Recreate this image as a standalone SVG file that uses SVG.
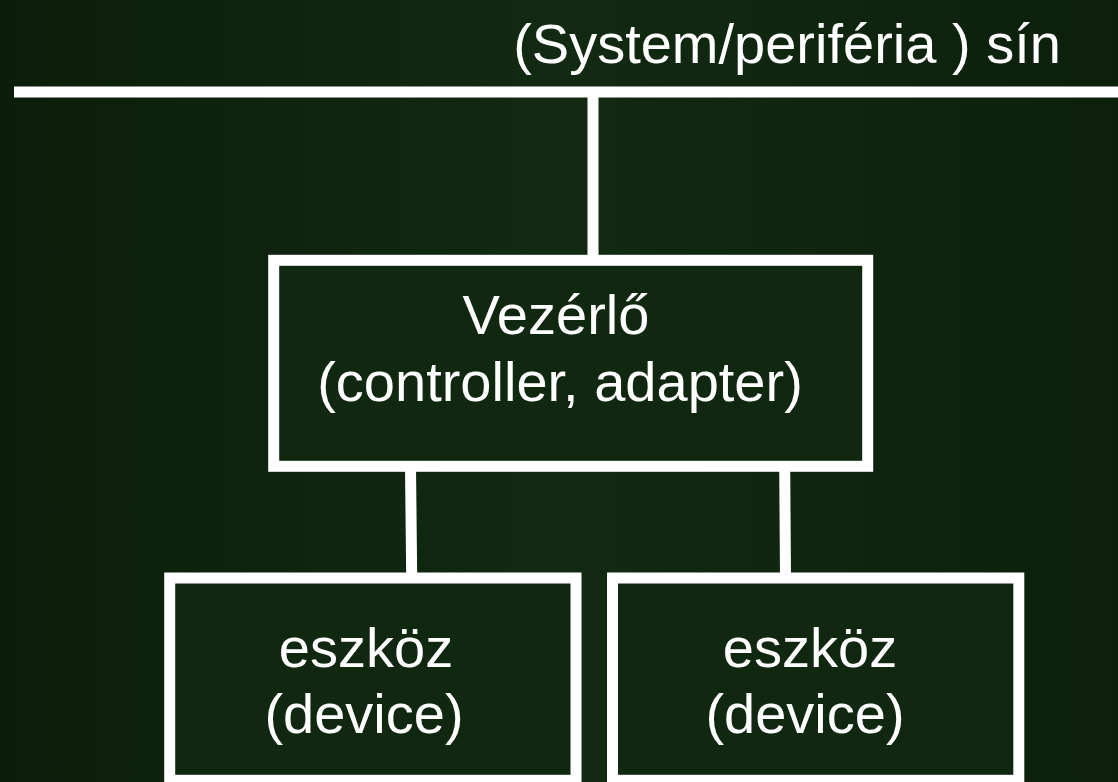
<svg xmlns="http://www.w3.org/2000/svg" width="1118" height="782" viewBox="0 0 1118 782">
  <defs>
    <linearGradient id="bg" x1="0" y1="0" x2="1" y2="0">
      <stop offset="0" stop-color="#0b1e0b"/>
      <stop offset="0.5" stop-color="#112a11"/>
      <stop offset="1" stop-color="#0c200c"/>
    </linearGradient>
    <style>
      .box { fill: #102810; stroke: #ffffff; stroke-width: 11; }
      .wire { stroke: #ffffff; stroke-width: 11; fill: none; }
      .label { fill: #ffffff; font-family: "Liberation Sans", Arial, sans-serif; font-size: 56px; text-anchor: middle; }
    </style>
  </defs>

  <!-- background -->
  <rect x="0" y="0" width="1118" height="782" fill="url(#bg)"/>

  <!-- bus caption -->
  <text id="bus-label" class="label" x="787" y="63">(System/periféria ) sín</text>

  <!-- connectors: bus line and links between units -->
  <g id="connectors">
    <line class="wire" x1="14" y1="92" x2="1118" y2="92"/>
    <line class="wire" x1="593" y1="92" x2="593" y2="260"/>
    <line class="wire" x1="410.5" y1="466" x2="411.7" y2="578"/>
    <line class="wire" x1="784.7" y1="466" x2="785.5" y2="578"/>
  </g>

  <!-- controller -->
  <g id="controller">
    <rect class="box" x="273.7" y="260.3" width="594" height="206"/>
    <text class="label" x="556" y="334">Vezérlő</text>
    <text class="label" x="560" y="401">(controller, adapter)</text>
  </g>

  <!-- device 1 -->
  <g id="device-1">
    <rect class="box" x="169.7" y="578" width="406.3" height="202.3"/>
    <text class="label" x="366" y="667">eszköz</text>
    <text class="label" x="364" y="733">(device)</text>
  </g>

  <!-- device 2 -->
  <g id="device-2">
    <rect class="box" x="612.5" y="578" width="406.3" height="202.3"/>
    <text class="label" x="810" y="667">eszköz</text>
    <text class="label" x="805" y="733">(device)</text>
  </g>
</svg>
